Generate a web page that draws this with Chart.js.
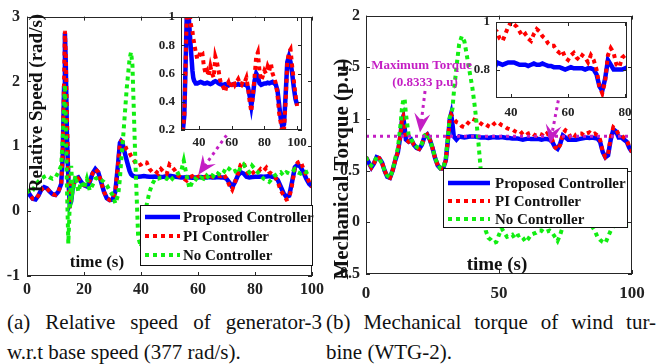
<!DOCTYPE html>
<html>
<head>
<meta charset="utf-8">
<script src="https://cdn.jsdelivr.net/npm/chart.js@4.4.1/dist/chart.umd.min.js"></script>
<style>
  body { margin: 0; width: 659px; height: 364px; background: #fff; position: relative; overflow: hidden; font-family: 'Liberation Serif', 'Times New Roman', serif; }
  canvas { position: absolute; }
  .cap { position: absolute; font-size: 21px; line-height: 30px; color: #111; }
  .cap div { white-space: nowrap; }
  .cap .j { text-align: justify; text-align-last: justify; white-space: normal; }
</style>
</head>
<body>
<canvas id="mainA" width="330" height="300" style="left:0px;top:0px"></canvas>
<canvas id="insetA" width="170" height="160" style="left:150px;top:0px"></canvas>
<canvas id="mainB" width="329" height="300" style="left:330px;top:0px"></canvas>
<canvas id="insetB" width="199" height="130" style="left:460px;top:0px"></canvas>
<div class="cap" style="left:7px;top:307px;width:315px">
  <div class="j">(a) Relative speed of generator-3</div>
  <div>w.r.t base speed (377 rad/s).</div>
</div>
<div class="cap" style="left:326px;top:307px;width:330px">
  <div class="j">(b) Mechanical torque of wind tur-</div>
  <div>bine (WTG-2).</div>
</div>
<script>
// Названия серий
const seriesNames = ['Proposed Controller', 'PI Controller', 'No Controller'];

// (a) Относительная скорость генератора-3
const timeA = [0, 1, 2, 3, 4, 5, 6, 7, 8, 9, 10, 11, 12,
  12.5, 13, 13.3, 13.6, 14, 14.5, 15, 15.5,
  16, 17, 18, 19, 20, 21, 22, 23, 24, 25, 26, 27, 28, 29, 30, 31, 32,
  32.6, 33, 33.5, 34, 35, 36, 36.5, 37,
  38, 39, 40, 41, 42, 43, 44, 45, 46, 47, 48, 49, 50, 51, 52, 53, 54, 55, 56, 57, 58, 59, 60,
  61, 62, 63, 64, 65, 66, 67, 68, 69, 70, 71, 72, 73, 74, 75, 76, 77, 78, 79, 80,
  81, 82, 83, 84, 85, 86, 87, 88, 89, 90, 91, 92, 93, 94, 95, 96, 97, 98, 99, 100];
const propA = [0.33, 0.25, 0.19, 0.18, 0.24, 0.33, 0.37, 0.35, 0.30, 0.26, 0.25, 0.30, 0.42,
  0.80, 1.90, 2.75, 2.30, 1.20, 0.50, 0.10, 0.15,
  0.35, 0.50, 0.52, 0.45, 0.40, 0.38, 0.45, 0.58, 0.65, 0.60, 0.45, 0.30, 0.20, 0.17, 0.18, 0.30, 0.75,
  1.05, 1.08, 1.05, 0.95, 0.78, 0.62, 0.57, 0.55,
  0.53, 0.53, 0.535, 0.54, 0.535, 0.53, 0.53, 0.535, 0.53, 0.525, 0.53, 0.54, 0.545, 0.54, 0.53, 0.525, 0.52, 0.52, 0.525, 0.52, 0.515, 0.52, 0.52,
  0.525, 0.52, 0.52, 0.525, 0.52, 0.52, 0.525, 0.52, 0.52, 0.50, 0.44, 0.37, 0.45, 0.55, 0.60, 0.58, 0.53, 0.52, 0.525, 0.53,
  0.53, 0.535, 0.53, 0.535, 0.54, 0.53, 0.52, 0.48, 0.38, 0.28, 0.22, 0.24, 0.45, 0.68, 0.72, 0.68, 0.60, 0.50, 0.42, 0.38];
const piA = [0.33, 0.25, 0.19, 0.18, 0.24, 0.33, 0.37, 0.35, 0.30, 0.26, 0.25, 0.30, 0.42,
  0.85, 2.00, 2.78, 2.40, 1.50, 0.60, 0.05, 0.20,
  0.40, 0.45, 0.50, 0.43, 0.40, 0.40, 0.47, 0.58, 0.65, 0.60, 0.45, 0.30, 0.20, 0.17, 0.18, 0.30, 0.75,
  1.05, 1.08, 1.07, 1.05, 0.95, 0.90, 0.85, 0.82,
  0.75, 0.70, 0.72, 0.76, 0.75, 0.65, 0.60, 0.62, 0.58, 0.65, 0.60, 0.57, 0.72, 0.68, 0.62, 0.55, 0.52, 0.50, 0.47, 0.52, 0.54, 0.50, 0.53,
  0.55, 0.52, 0.54, 0.56, 0.53, 0.52, 0.55, 0.54, 0.57, 0.50, 0.40, 0.33, 0.45, 0.58, 0.72, 0.75, 0.62, 0.55, 0.58, 0.62,
  0.60, 0.65, 0.62, 0.67, 0.60, 0.57, 0.53, 0.45, 0.32, 0.25, 0.18, 0.20, 0.40, 0.68, 0.75, 0.77, 0.65, 0.55, 0.45, 0.37];
const noA = [0.33, 0.28, 0.32, 0.40, 0.46, 0.50, 0.53, 0.55, 0.52, 0.50, 0.52, 0.60, 0.70,
  1.10, 1.60, 1.95, 1.40, 0.40, -0.50, 0.10, 0.70,
  0.30, 0.55, 0.30, 0.45, 0.35, 0.50, 0.32, 0.40, 0.50, 0.52, 0.48, 0.45, 0.40, 0.32, 0.25, 0.12, 0.25,
  0.50, 0.75, 1.00, 1.30, 1.90, 2.35, 2.45, 2.25,
  0.80, -0.40, -0.55, -0.30, 0.10, 0.30, 0.42, 0.50, 0.50, 0.52, 0.52, 0.50, 0.55, 0.50, 0.55, 0.58, 0.60, 0.78, 0.55, 0.35, 0.45, 0.50, 0.47,
  0.52, 0.50, 0.55, 0.50, 0.55, 0.52, 0.58, 0.55, 0.60, 0.68, 0.65, 0.60, 0.62, 0.58, 0.68, 0.72, 0.65, 0.60, 0.70, 0.65,
  0.60, 0.55, 0.50, 0.48, 0.45, 0.50, 0.55, 0.58, 0.60, 0.55, 0.60, 0.58, 0.60, 0.65, 0.60, 0.58, 0.62, 0.60, 0.62, 0.62];

// (b) Механический момент ветротурбины
const timeB = [0, 1, 2, 3, 4, 5, 6, 7, 8, 9, 10, 11, 12, 13,
  13.5, 14, 14.5,
  15, 16, 17, 18, 19, 20, 21, 22, 23, 24, 25, 26, 27, 28, 29, 30, 31,
  31.5, 32, 32.5,
  33, 34, 35, 36, 37, 38, 39, 40, 41, 42, 43, 44, 45, 46, 47, 48, 49, 50,
  51, 52, 53, 54, 55, 56, 57, 58, 59, 60, 61, 62, 63, 64, 65, 66, 67, 68, 69, 70,
  71, 72, 73, 74, 75, 76, 77, 78, 79, 80, 81, 82, 83, 84, 85, 86, 87, 88, 89, 90,
  91, 92, 93, 94, 95, 96, 97, 98, 99, 100];
const propB = [0.63, 0.58, 0.53, 0.57, 0.63, 0.62, 0.58, 0.50, 0.44, 0.43, 0.50, 0.60, 0.68, 0.85,
  0.98, 1.02, 0.92,
  0.80, 0.78, 0.80, 0.75, 0.72, 0.71, 0.75, 0.83, 0.85, 0.80, 0.72, 0.62, 0.55, 0.52, 0.52, 0.60, 0.85,
  1.00, 1.05, 0.95,
  0.83, 0.80, 0.83, 0.825, 0.82, 0.825, 0.83, 0.83, 0.83, 0.825, 0.82, 0.82, 0.82, 0.815, 0.82, 0.825, 0.82, 0.82,
  0.825, 0.82, 0.815, 0.815, 0.81, 0.81, 0.81, 0.805, 0.80, 0.805, 0.81, 0.805, 0.805, 0.805, 0.805, 0.80, 0.805, 0.805, 0.80, 0.78,
  0.73, 0.71, 0.76, 0.84, 0.82, 0.80, 0.80, 0.80, 0.80, 0.805, 0.81, 0.815, 0.82, 0.815, 0.82, 0.815, 0.81, 0.78, 0.68, 0.63,
  0.65, 0.80, 0.90, 0.88, 0.82, 0.82, 0.80, 0.78, 0.72, 0.68];
const piB = [0.63, 0.58, 0.53, 0.57, 0.63, 0.62, 0.58, 0.50, 0.44, 0.43, 0.50, 0.60, 0.68, 0.85,
  0.98, 1.02, 0.92,
  0.80, 0.78, 0.80, 0.75, 0.72, 0.71, 0.75, 0.83, 0.85, 0.80, 0.72, 0.62, 0.55, 0.52, 0.52, 0.60, 0.85,
  1.00, 1.04, 1.02,
  1.00, 0.97, 0.96, 0.93, 0.92, 0.95, 0.98, 1.00, 0.99, 0.98, 0.96, 0.94, 0.95, 0.93, 0.92, 0.95, 0.97, 0.96,
  0.94, 0.93, 0.91, 0.90, 0.90, 0.88, 0.87, 0.88, 0.85, 0.84, 0.86, 0.87, 0.85, 0.84, 0.86, 0.85, 0.83, 0.86, 0.84, 0.80,
  0.73, 0.70, 0.75, 0.86, 0.89, 0.87, 0.82, 0.81, 0.85, 0.86, 0.86, 0.84, 0.86, 0.87, 0.85, 0.86, 0.84, 0.80, 0.68, 0.63,
  0.66, 0.82, 0.92, 0.90, 0.85, 0.84, 0.82, 0.80, 0.73, 0.68];
const noB = [0.63, 0.57, 0.55, 0.58, 0.63, 0.61, 0.57, 0.50, 0.45, 0.43, 0.50, 0.62, 0.72, 0.95,
  1.10, 1.18, 1.20,
  1.05, 0.85, 0.80, 0.76, 0.73, 0.72, 0.76, 0.84, 0.86, 0.80, 0.72, 0.62, 0.56, 0.52, 0.52, 0.62, 0.88,
  1.02, 1.05, 1.10,
  1.25, 1.50, 1.72, 1.80, 1.75, 1.60, 1.45, 1.30, 1.10, 0.85, 0.55, 0.20, -0.08, -0.15, -0.17, -0.20, -0.19, -0.12,
  -0.06, -0.10, -0.14, -0.13, -0.12, -0.16, -0.13, -0.12, -0.15, -0.19, -0.16, -0.12, -0.11, -0.10, -0.08, -0.08, -0.10, -0.09, -0.08, -0.10,
  -0.14, -0.18, -0.12, -0.04, -0.01, 0.00, -0.01, 0.00, -0.01, 0.00, -0.01, 0.00, -0.01, -0.02, -0.04, -0.08, -0.14, -0.17, -0.19, -0.20,
  -0.14, -0.08, -0.04, 0.00, -0.03, -0.04, -0.03, -0.03, -0.03, -0.03];
const maxTorque = 0.8333;

// Деления осей
const xTicksA = [0, 20, 40, 60, 80, 100];
const yTicksA = [-1, 0, 1, 2, 3];
const insetXTicksA = [40, 60, 80, 100];
const insetYTicksA = [0.2, 0.4, 0.6, 0.8, 1];
const xTicksB = [0, 50, 100];
const yTicksB = [-0.5, 0, 0.5, 1, 1.5, 2];
const insetXTicksB = [40, 60, 80];
const insetYTicksB = [0.8, 1];

// Стрелки и подпись (в единицах данных)
const arrowA = [[70, 1.17], [60.1, 0.56]];
const arrowB1 = [[22.2, 1.27], [20.3, 0.87]];
const arrowB2 = [[72.3, 1.18], [69.2, 0.76]];
const torqueNote = ['Maximum Torque', '(0.8333 p.u)'];
const torqueNoteAt = [[20.9, 1.515], [22.2, 1.354]];

const BLUE = '#0000ff', RED = '#ff0000', GREEN = '#11ee11', MAGENTA = '#c41ec4', INK = '#222';
const FONT = "'Liberation Serif', 'Times New Roman', serif";
Chart.defaults.font.family = FONT;
Chart.defaults.font.weight = 'bold';
Chart.defaults.color = INK;

const pts = (t, v) => t.map((x, i) => ({ x, y: v[i] }));
function series(t, v, name, color, width, dash, order) {
  return { label: name, data: pts(t, v), borderColor: color, borderWidth: width, borderDash: dash,
    borderCapStyle: 'butt', pointRadius: 0, fill: false, tension: 0, order, clip: 0 };
}

// Рамка с делениями внутрь, как в MATLAB
const frame = {
  id: 'frame',
  beforeDraw(c) {
    const a = c.chartArea, g = c.ctx;
    g.save();
    g.fillStyle = '#fff';
    g.fillRect(a.left, a.top, a.right - a.left, a.bottom - a.top);
    g.restore();
  },
  afterDatasetsDraw(c) {
    const a = c.chartArea, g = c.ctx, L = 4;
    g.save();
    g.strokeStyle = '#262626';
    g.lineWidth = 1;
    g.strokeRect(Math.round(a.left) + 0.5, Math.round(a.top) + 0.5, Math.round(a.right - a.left) - 1, Math.round(a.bottom - a.top) - 1);
    g.beginPath();
    c.scales.x.ticks.forEach(t => {
      const x = Math.round(c.scales.x.getPixelForValue(t.value)) + 0.5;
      g.moveTo(x, a.bottom); g.lineTo(x, a.bottom - L);
      g.moveTo(x, a.top); g.lineTo(x, a.top + L);
    });
    c.scales.y.ticks.forEach(t => {
      const y = Math.round(c.scales.y.getPixelForValue(t.value)) + 0.5;
      g.moveTo(a.left, y); g.lineTo(a.left + L, y);
      g.moveTo(a.right, y); g.lineTo(a.right - L, y);
    });
    g.stroke();
    g.restore();
  }
};

function makeChart(id, datasets, o) {
  return new Chart(document.getElementById(id), {
    type: 'line',
    data: { datasets },
    options: {
      responsive: false, animation: false, devicePixelRatio: 1,
      layout: { padding: o.pad },
      plugins: { legend: { display: false }, tooltip: { enabled: false } },
      scales: {
        x: {
          type: 'linear', min: o.x[0], max: o.x[1],
          grid: { display: false, drawTicks: false }, border: { display: false },
          ticks: { font: { size: o.xf, weight: 'bold' }, color: INK, padding: o.xp, autoSkip: false, maxRotation: 0, callback: v => String(v) },
          afterBuildTicks: s => { s.ticks = o.xt.map(v => ({ value: v })); },
          afterFit: s => { s.height = o.xh; }
        },
        y: {
          type: 'linear', min: o.y[0], max: o.y[1],
          grid: { display: false, drawTicks: false }, border: { display: false },
          ticks: { font: { size: o.yf, weight: 'bold' }, color: INK, padding: o.yp, autoSkip: false, callback: v => String(v) },
          afterBuildTicks: s => { s.ticks = o.yt.map(v => ({ value: v })); },
          afterFit: s => { s.width = o.yw; }
        }
      }
    },
    plugins: [frame].concat(o.extra || [])
  });
}

function drawArrow(c, from, to) {
  const sx = c.scales.x, sy = c.scales.y, g = c.ctx;
  const x0 = sx.getPixelForValue(from[0]), y0 = sy.getPixelForValue(from[1]);
  const x1 = sx.getPixelForValue(to[0]), y1 = sy.getPixelForValue(to[1]);
  const d = Math.hypot(x1 - x0, y1 - y0), ux = (x1 - x0) / d, uy = (y1 - y0) / d, nx = -uy, ny = ux;
  const HL = 19, HW = 8;
  g.save();
  g.strokeStyle = MAGENTA; g.fillStyle = MAGENTA;
  g.lineWidth = 3; g.setLineDash([3, 4]);
  g.beginPath(); g.moveTo(x0, y0); g.lineTo(x1 - ux * HL * 0.6, y1 - uy * HL * 0.6); g.stroke();
  g.setLineDash([]);
  const bx = x1 - ux * HL, by = y1 - uy * HL;
  g.beginPath();
  g.moveTo(x1, y1);
  g.lineTo(bx + nx * HW, by + ny * HW);
  g.lineTo(x1 - ux * HL * 0.62, y1 - uy * HL * 0.62);
  g.lineTo(bx - nx * HW, by - ny * HW);
  g.closePath(); g.fill();
  g.restore();
}

function drawLegend(c, box, rows, sample, textX, size) {
  const g = c.ctx;
  g.save();
  g.fillStyle = '#fff';
  g.fillRect(box[0], box[1], box[2], box[3]);
  g.strokeStyle = '#111'; g.lineWidth = 1;
  g.strokeRect(box[0] + 0.5, box[1] + 0.5, box[2] - 1, box[3] - 1);
  seriesNames.forEach((name, i) => {
    const ds = c.data.datasets.find(d => d.label === name);
    const y = box[1] + rows[i];
    g.strokeStyle = ds.borderColor; g.lineWidth = ds.borderWidth; g.setLineDash(ds.borderDash || []);
    g.beginPath(); g.moveTo(box[0] + sample[0], y); g.lineTo(box[0] + sample[1], y); g.stroke();
    g.setLineDash([]);
    g.fillStyle = '#111';
    g.font = 'bold ' + size + 'px ' + FONT;
    g.textBaseline = 'middle'; g.textAlign = 'left';
    g.fillText(name, box[0] + textX, y + 1);
  });
  g.restore();
}

function drawText(c, text, x, y, size, rot, color) {
  const g = c.ctx;
  g.save();
  g.translate(x, y); g.rotate(rot);
  g.font = 'bold ' + size + 'px ' + FONT;
  g.fillStyle = color || '#111';
  g.textAlign = 'center'; g.textBaseline = 'middle';
  g.fillText(text, 0, 0);
  g.restore();
}

// (a) основной график
makeChart('mainA', [
  series(timeA, propA, seriesNames[0], BLUE, 4.5, [], 3),
  series(timeA, piA, seriesNames[1], RED, 4, [4, 4], 2),
  series(timeA, noA, seriesNames[2], GREEN, 4, [4, 4], 1)
], {
  pad: { left: 0, top: 13, right: 18, bottom: 0 },
  x: [0, 100], y: [-1, 3], xt: xTicksA, yt: yTicksA,
  xf: 16, yf: 16, xp: 4, yp: 7, xh: 24, yw: 27,
  extra: [{
    id: 'notesA',
    afterDraw(c) {
      drawArrow(c, arrowA[0], arrowA[1]);
      drawLegend(c, [140, 205, 173, 61], [12, 31, 50], [5, 40], 43, 15);
      drawText(c, 'Relative Speed (rad/s)', 37, 103, 19, -Math.PI / 2);
      drawText(c, 'time (s)', 97, 263, 17, 0);
    }
  }]
});

// (a) врезка
makeChart('insetA', [
  series(timeA, propA, seriesNames[0], BLUE, 4.5, [], 2),
  series(timeA, piA, seriesNames[1], RED, 4, [4, 4], 1)
], {
  pad: { left: 0, top: 17, right: 18, bottom: 0 },
  x: [29, 103], y: [0.2, 1], xt: insetXTicksA, yt: insetYTicksA,
  xf: 13, yf: 13, xp: 5, yp: 6, xh: 30, yw: 31
});

// (b) основной график
makeChart('mainB', [
  series(timeB, propB, seriesNames[0], BLUE, 4.5, [], 3),
  series(timeB, piB, seriesNames[1], RED, 4, [4, 4], 2),
  series(timeB, noB, seriesNames[2], GREEN, 4, [4, 4], 1),
  series([timeB[0], timeB[timeB.length - 1]], [maxTorque, maxTorque], 'Maximum Torque', MAGENTA, 3, [3, 4], 0)
], {
  pad: { left: 0, top: 15, right: 27, bottom: 0 },
  x: [0, 100], y: [-0.5, 2], xt: xTicksB, yt: yTicksB,
  xf: 17, yf: 16, xp: 9, yp: 6, xh: 26, yw: 36,
  extra: [{
    id: 'notesB',
    afterDraw(c) {
      const sx = c.scales.x, sy = c.scales.y;
      torqueNote.forEach((s, i) => drawText(c, s, sx.getPixelForValue(torqueNoteAt[i][0]), sy.getPixelForValue(torqueNoteAt[i][1]), 13, 0, MAGENTA));
      drawArrow(c, arrowB1[0], arrowB1[1]);
      drawArrow(c, arrowB2[0], arrowB2[1]);
      drawLegend(c, [113, 168, 185, 60], [15, 33, 51], [5, 47], 52, 15);
      drawText(c, 'Mechanical Torque (p.u)', 13, 169, 21, -Math.PI / 2);
      drawText(c, 'time (s)', 167, 265, 19, 0);
    }
  }]
});

// (b) врезка
makeChart('insetB', [
  series(timeB, propB, seriesNames[0], BLUE, 4.5, [], 2),
  series(timeB, piB, seriesNames[1], RED, 4, [4, 4], 1)
], {
  pad: { left: 0, top: 22, right: 32, bottom: 0 },
  x: [34.7, 80.7], y: [0.68, 1.0], xt: insetXTicksB, yt: insetYTicksB,
  xf: 13, yf: 13, xp: 7, yp: 6, xh: 32, yw: 36
});
</script>
</body>
</html>
